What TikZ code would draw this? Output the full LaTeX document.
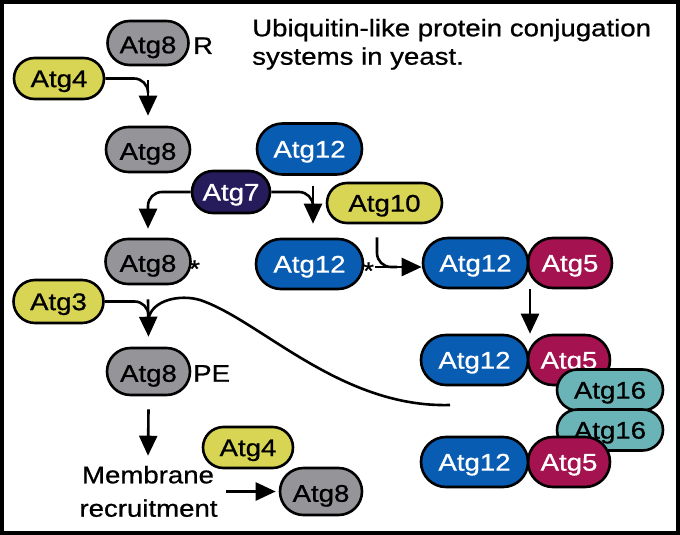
\documentclass[tikz,border=0pt]{standalone}
\usepackage{fontspec}
\setmainfont{Liberation Sans}[FakeStretch=1.15,FakeBold=0.8]
\usetikzlibrary{arrows.meta,shapes.misc,calc}
\definecolor{cgrey}{RGB}{148,148,153}
\definecolor{cyel}{RGB}{216,212,84}
\definecolor{cblue}{RGB}{8,92,178}
\definecolor{cnavy}{RGB}{38,28,92}
\definecolor{ccrim}{RGB}{164,18,80}
\definecolor{cteal}{RGB}{106,180,184}
\begin{document}
\begin{tikzpicture}[x=1pt,y=-1pt,
 txt/.style={font=\fontsize{24}{28}\selectfont, inner sep=0pt},
 pill/.style={rounded rectangle, draw=black, line width=2.6pt, inner sep=0pt, text height=17.2pt, text depth=0pt, font=\fontsize{24}{28}\selectfont},
 gp/.style={pill, fill=cgrey, minimum width=84pt, minimum height=45pt, text height=20.5pt},
 yp/.style={pill, fill=cyel, minimum width=90pt, minimum height=41pt},
 bp/.style={pill, fill=cblue, text=white, minimum width=106pt, minimum height=50pt},
 np/.style={pill, fill=cnavy, text=white, minimum width=78pt, minimum height=42pt},
 cp/.style={pill, fill=ccrim, text=white, minimum width=83pt, minimum height=50pt},
 tp/.style={pill, fill=cteal, minimum width=106pt, minimum height=41pt},
 conn/.style={line width=2.6pt, draw=black},
 arr/.style={conn, -{Triangle[length=20pt,width=18pt]}},
]
\useasboundingbox (0,0) rectangle (680,535);
\fill[white] (0,0) rectangle (680,535);
\draw[line width=4pt] (2,2) rectangle (678,533);

% title
\node[txt, anchor=base west] (t1) at (252,36.3) {Ubiquitin-like protein conjugation};
\node[txt, anchor=base west] (t2) at (252,64.7) {systems in yeast.};

% Atg8 system
\node[gp, minimum width=81pt, minimum height=44pt] (a8r) at (148,43) {Atg8};
\node[txt, anchor=base west] (lr) at (193,54) {R};
\node[yp] (a4a) at (59,78.5) {Atg4};
\node[gp] (a8b) at (148,149.5) {Atg8};
\node[gp, minimum width=85pt] (a8s) at (148,261.5) {Atg8};
\node[txt, anchor=base west] (st1) at (189,277) {*};
\node[yp, minimum height=43pt] (a3) at (58.5,301.5) {Atg3};
\node[gp, minimum width=83pt, minimum height=47pt] (a8pe) at (148.5,371.5) {Atg8};
\node[txt, anchor=base west] (lpe) at (193,381.7) {PE};
\node[txt, anchor=base] (mem1) at (148,483.3) {Membrane};
\node[txt, anchor=base] (mem2) at (148.5,516.7) {recruitment};
\node[yp] (a4b) at (248,447.5) {Atg4};
\node[gp, minimum width=82pt, minimum height=47pt] (a8c) at (321,491.5) {Atg8};

% Atg12 system
\node[bp, minimum width=105pt, minimum height=51pt] (a12a) at (309.5,149) {Atg12};
\node[np] (a7) at (231,192) {Atg7};
\node[yp, minimum width=115pt, minimum height=40pt] (a10) at (384.5,203) {Atg10};
\node[bp, minimum width=107pt] (a12b) at (309.5,264) {Atg12};
\node[txt, anchor=base west] (st2) at (363,279) {*};

\node[cp, minimum width=84pt] (a5a) at (570,263) {Atg5};
\node[bp, minimum width=105pt] (a12c) at (475.5,263) {Atg12};

\node[cp, minimum width=82pt] (a5b) at (569,360) {Atg5};
\node[bp, minimum width=107pt] (a12d) at (474.5,360) {Atg12};
\node[tp] (a16a) at (610,390) {Atg16};
\node[tp] (a16b) at (610,430) {Atg16};
\node[cp, minimum width=82pt] (a5c) at (569,462) {Atg5};
\node[bp, minimum width=107pt] (a12e) at (474.5,462) {Atg12};

% connectors
\draw[arr] ([yshift=-14pt]a8r.south) -- ([yshift=10pt]a8b.north);
\draw[conn, rounded corners=14pt] (a4a.east) -| ([yshift=34pt]a8b.north);
\draw[arr, rounded corners=14pt] (a7.west) -| ([yshift=9pt]a8s.north);
\draw[conn, rounded corners=14pt] (a7.east) -| ([xshift=3.5pt,yshift=29pt]a12b.north);
\draw[arr] ([xshift=3.5pt,yshift=-10pt]a12a.south) -- ([xshift=3.5pt,yshift=14pt]a12b.north);
\coordinate (h0) at (375,267);
\draw[conn, rounded corners=14pt] ([xshift=-7.5pt,yshift=-13pt]a10.south) |- ([xshift=22pt]h0);
\draw[arr] (h0) -- (h0 -| a12c.west);
\draw[arr] ([xshift=54.5pt]a12c.south) -- ([xshift=55.5pt]a12d.north);
\draw[arr] ([yshift=-14pt]a8s.south) -- ([yshift=10pt]a8pe.north);
\draw[conn, rounded corners=14pt] (a3.east) -| ([yshift=28pt]a8pe.north);
\coordinate (cend) at (450,405);
\draw[conn] (cend) .. controls (340,408) and (260,320) .. (200,300) .. controls (180,294) and (152,300) .. ([yshift=28pt]a8pe.north);
\draw[arr] ([yshift=-13pt]a8pe.south) -- ([yshift=10pt]mem1.north);
\draw[arr] ([xshift=-53pt]a8c.west) -- ([xshift=-3pt]a8c.west);
\end{tikzpicture}
\end{document}
